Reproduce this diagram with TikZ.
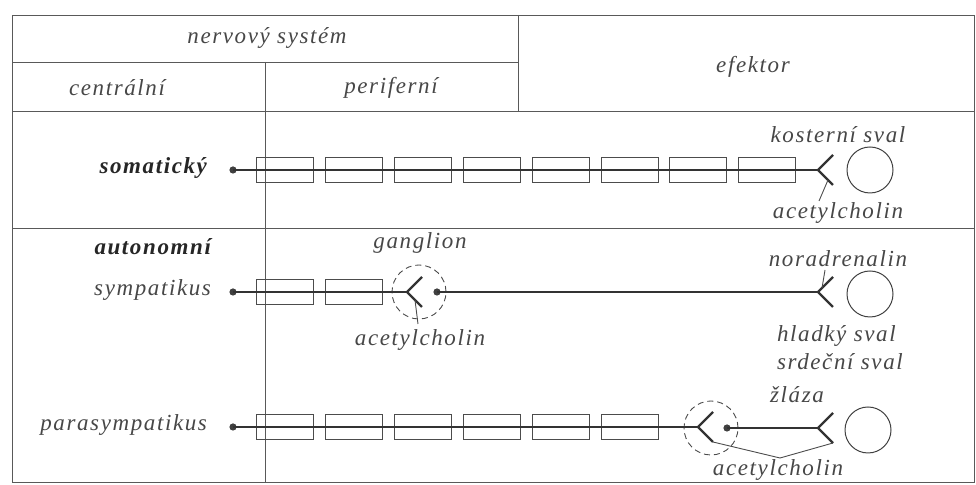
\documentclass[tikz,border=0pt]{standalone}
\usepackage{fontspec}
\setmainfont{Liberation Serif}[LetterSpace=7]
\usetikzlibrary{positioning}

\begin{document}
\begin{tikzpicture}[
    x=0.5pt, y=-0.5pt,
    node distance=5.5pt,
    every node/.style={font=\itshape\fontsize{11.5}{14}\selectfont, text=black!72},
    heading/.style={font=\bfseries\itshape\fontsize{11.5}{14}\selectfont, text=black!85},
    grid/.style={draw=black!65, line width=0.45pt},
    neuron/.style={rectangle, draw=black!70, line width=0.45pt, minimum width=28.5pt, minimum height=12.5pt, inner sep=0pt},
    axon/.style={draw=black!80, line width=1.2pt},
    soma/.style={circle, fill=black!75, minimum size=3.6pt, inner sep=0pt},
    effector/.style={circle, draw=black!75, line width=0.5pt, minimum size=23pt, inner sep=0pt},
    ganglion/.style={circle, draw=black!70, dashed, dash pattern=on 3pt off 2pt, line width=0.45pt, minimum size=27pt, inner sep=0pt},
    pointer/.style={draw=black!70, line width=0.45pt}
  ]
    \useasboundingbox (0,0) rectangle (976,485);
    % table
    \draw[grid] (12,15) rectangle (974,482);
    \draw[grid] (12,62) -- (518,62);
    \draw[grid] (12,111) -- (974,111);
    \draw[grid] (12,228) -- (974,228);
    \draw[grid] (518,15) -- (518,111);
    \draw[grid] (265,62) -- (265,482);
    \node (ns) at (267,38) {nervový systém};
    \node (ef) at (753,67) {efektor};
    \node (cn) at (117,88) {centrální};
    \node (pf) at (391,88) {periferní};

    % somaticky
    \node[heading, anchor=east] (som) at (214,168) {somatický};
    \node[soma] (sd) at (233,170) {};
    \node[neuron, anchor=west] (s1) at (256,170) {};
    \node[neuron, right=of s1] (s2) {};
    \node[neuron, right=of s2] (s3) {};
    \node[neuron, right=of s3] (s4) {};
    \node[neuron, right=of s4] (s5) {};
    \node[neuron, right=of s5] (s6) {};
    \node[neuron, right=of s6] (s7) {};
    \node[neuron, right=of s7] (s8) {};
    \coordinate (sf) at (818,170);
    \coordinate (sfu) at (833,155);
    \coordinate (sfl) at (833,185);
    \node[effector] (se) at (870,170) {};
    \draw[axon] (sd.center) -- (sf);
    \draw[axon] (sfu) -- (sf) -- (sfl);
    \node (ksv) at (838,135) {kosterní sval};
    \node (sac) at (838,213) {acetylcholin};
    \coordinate (sp) at (828,180);
    \draw[pointer] (819,201) -- (sp);

    % autonomni - sympatikus
    \node[heading, anchor=east] (aut) at (218,247) {autonomní};
    \node[anchor=east] (sym) at (218,290) {sympatikus};
    \node[soma] (yd) at (233,292) {};
    \node[neuron, anchor=west] (y1) at (256,292) {};
    \node[neuron, right=of y1] (y2) {};
    \coordinate (yg) at (407,292);
    \node[ganglion] (yc) at (419,292) {};
    \node[soma] (yd2) at (437,292) {};
    \coordinate (yf) at (818,292);
    \node[effector] (ye) at (870,294) {};
    \draw[axon] (yd.center) -- (yg);
    \draw[axon] (422,277) -- (yg) -- (422,307);
    \draw[axon] (yd2.center) -- (yf);
    \draw[axon] (833,277) -- (yf) -- (833,307);
    \node (gl) at (420,243) {ganglion};
    \node (yac) at (420,340) {acetylcholin};
    \coordinate (yp) at (415,300);
    \draw[pointer] (418,324) -- (yp);
    \node (nor) at (838,259) {noradrenalin};
    \coordinate (np) at (822,288);
    \draw[pointer] (825,270) -- (np);
    \node[anchor=west, align=left] (hs) at (770,348) {hladký sval\\srdeční sval};

    % parasympatikus
    \node[anchor=east] (par) at (214,425) {parasympatikus};
    \node[soma] (pd) at (233,427) {};
    \node[neuron, anchor=west] (p1) at (256,427) {};
    \node[neuron, right=of p1] (p2) {};
    \node[neuron, right=of p2] (p3) {};
    \node[neuron, right=of p3] (p4) {};
    \node[neuron, right=of p4] (p5) {};
    \node[neuron, right=of p5] (p6) {};
    \coordinate (pg) at (698,427);
    \coordinate (pgl) at (713,442);
    \node[ganglion] (pc) at (711,428) {};
    \node[soma] (pd2) at (727,428) {};
    \coordinate (pf) at (818,428);
    \coordinate (pfl) at (833,443);
    \node[effector] (pe) at (868,430) {};
    \draw[axon] (pd.center) -- (pg);
    \draw[axon] (713,412) -- (pg) -- (pgl);
    \draw[axon] (pd2.center) -- (pf);
    \draw[axon] (833,413) -- (pf) -- (pfl);
    \node (zl) at (797,395) {žláza};
    \node (pac) at (778,470) {acetylcholin};
    \coordinate (pp) at (780,458);
    \draw[pointer] (pgl) -- (pp) -- (pfl);
  \end{tikzpicture}
\end{document}
